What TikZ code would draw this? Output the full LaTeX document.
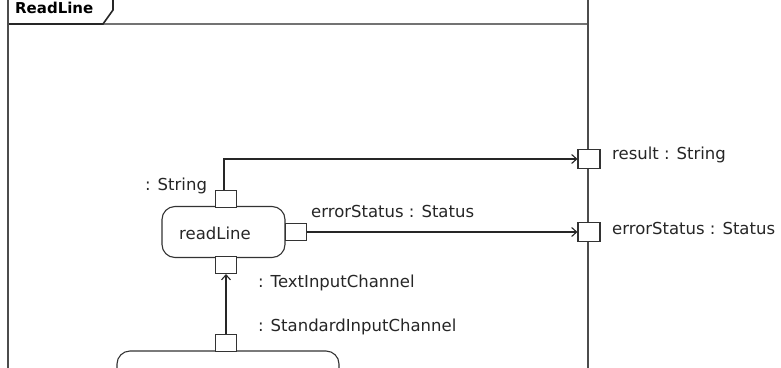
\documentclass[tikz,border=0pt]{standalone}
\usepackage{fontspec}
\setmainfont{DejaVu Sans}
\usetikzlibrary{arrows.meta}
\tikzset{
  lbl/.style={font=\fontsize{16.5}{19}\selectfont, text=black!85, inner sep=0pt, anchor=west},
  pin/.style={draw=black!80, line width=1.1pt, fill=white, minimum width=21pt, minimum height=17pt, inner sep=0pt},
  fpin/.style={pin, minimum width=22pt, minimum height=19pt},
  act/.style={draw=black!80, line width=1.1pt, rounded corners=13pt},
  flow/.style={draw=black!85, line width=1.1pt, -{Straight Barb[length=5pt,width=9pt,line width=1.1pt]}},
  framev/.style={draw=black!70, line width=2.6pt},
}
\begin{document}
\begin{tikzpicture}[x=1pt,y=-1pt]
\clip (0,0) rectangle (781,367);
\fill[white] (0,0) rectangle (781,367);
% frame
\draw[black!55, line width=1.6pt] (8,24) -- (588,24);
\draw[black!85, line width=1.6pt] (8,24) -- (103,24) -- (113,10) -- (113,-5);
\draw[framev] (8,-5) -- (8,372);
\draw[framev] (588,-5) -- (588,372);
\node[font=\fontsize{15}{17}\bfseries\selectfont, anchor=base west, inner sep=0pt] (fname) at (15,13) {ReadLine};
% actions
\node[act, minimum width=123pt, minimum height=51pt] (readline) at (223.5,232) {};
\node[lbl] (rltext) at (179,233) {readLine};
\draw[act] (117,400) -- (117,351) -- (339,351) -- (339,400);
% pins
\node[pin] (pintop) at (226,199) {};
\node[pin] (pinright) at (296,232) {};
\node[pin] (pinbot) at (226,265) {};
\node[pin] (pinlow) at (226,343) {};
\node[fpin] (fres) at (589,159) {};
\node[fpin] (ferr) at (589,232) {};
% labels
\node[lbl] (lstr) at (145,186) {: String};
\node[lbl] (lerr) at (311,211) {errorStatus : Status};
\node[lbl] (ltic) at (258,283) {: TextInputChannel};
\node[lbl] (lsic) at (258,327) {: StandardInputChannel};
\node[lbl] (lres) at (612,155) {result : String};
\node[lbl] (lferr) at (612,228) {errorStatus : Status};
% flows
\draw[flow] (pinlow.north) -- (pinbot.south);
\draw[flow] ([xshift=-2pt]pintop.north) |- (fres.west);
\draw[flow] (pinright.east) -- (ferr.west);
\end{tikzpicture}
\end{document}
